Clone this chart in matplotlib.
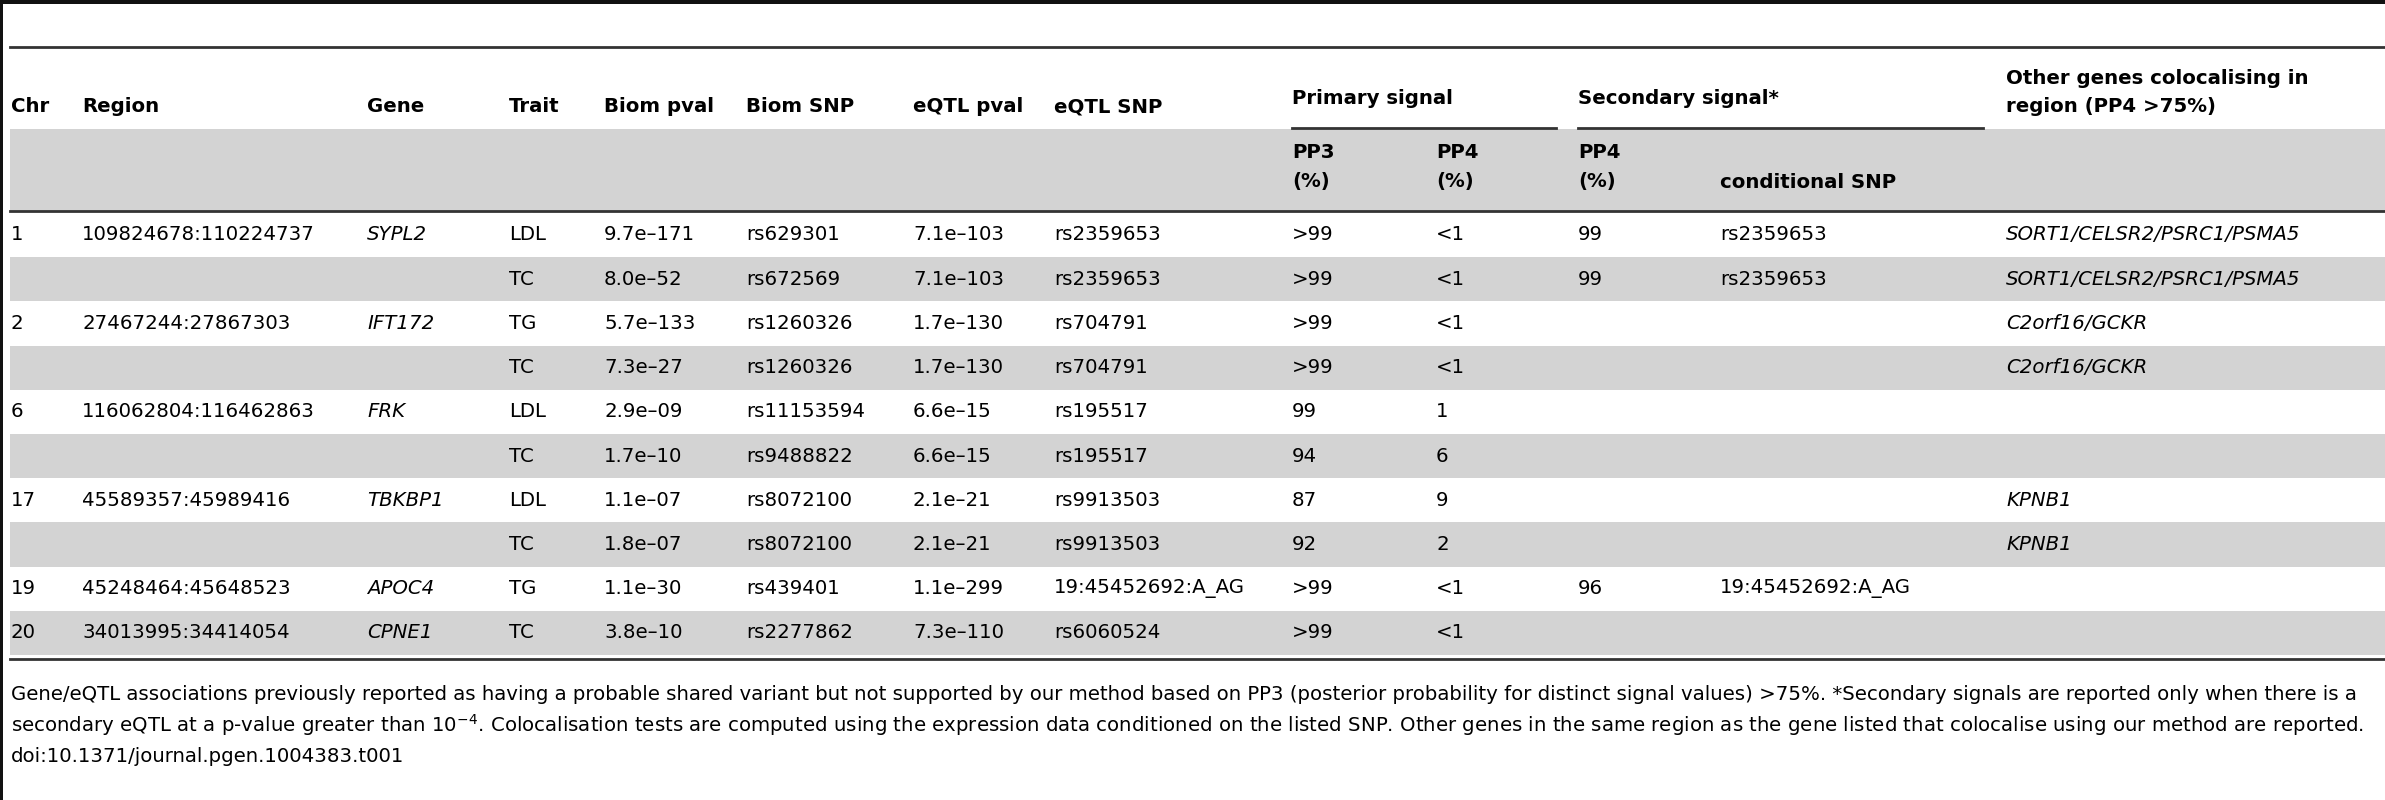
import matplotlib
matplotlib.use("Agg")
import matplotlib.pyplot as plt
from matplotlib.patches import Rectangle
from matplotlib.lines import Line2D

plt.rcParams['font.family'] = ['DejaVu Sans']

chr_ = ["1", "", "2", "", "6", "", "17", "", "19", "20"]
region = ["109824678:110224737", "", "27467244:27867303", "", "116062804:116462863", "",
          "45589357:45989416", "", "45248464:45648523", "34013995:34414054"]
gene = ["SYPL2", "", "IFT172", "", "FRK", "", "TBKBP1", "", "APOC4", "CPNE1"]
trait = ["LDL", "TC", "TG", "TC", "LDL", "TC", "LDL", "TC", "TG", "TC"]
biom_pval = ["9.7e\u2013171", "8.0e\u201352", "5.7e\u2013133", "7.3e\u201327", "2.9e\u201309",
             "1.7e\u201310", "1.1e\u201307", "1.8e\u201307", "1.1e\u201330", "3.8e\u201310"]
biom_snp = ["rs629301", "rs672569", "rs1260326", "rs1260326", "rs11153594", "rs9488822",
            "rs8072100", "rs8072100", "rs439401", "rs2277862"]
eqtl_pval = ["7.1e\u2013103", "7.1e\u2013103", "1.7e\u2013130", "1.7e\u2013130", "6.6e\u201315",
             "6.6e\u201315", "2.1e\u201321", "2.1e\u201321", "1.1e\u2013299", "7.3e\u2013110"]
eqtl_snp = ["rs2359653", "rs2359653", "rs704791", "rs704791", "rs195517", "rs195517",
            "rs9913503", "rs9913503", "19:45452692:A_AG", "rs6060524"]
pp3 = [">99", ">99", ">99", ">99", "99", "94", "87", "92", ">99", ">99"]
pp4 = ["<1", "<1", "<1", "<1", "1", "6", "9", "2", "<1", "<1"]
sec_pp4 = ["99", "99", "", "", "", "", "", "", "96", ""]
cond_snp = ["rs2359653", "rs2359653", "", "", "", "", "", "", "19:45452692:A_AG", ""]
other = ["SORT1/CELSR2/PSRC1/PSMA5", "SORT1/CELSR2/PSRC1/PSMA5", "C2orf16/GCKR", "C2orf16/GCKR",
         "", "", "KPNB1", "KPNB1", "", ""]

W, H = 2385, 800
fig = plt.figure(figsize=(W/100, H/100), dpi=100)
ax = fig.add_axes([0, 0, 1, 1])
ax.set_xlim(0, W); ax.set_ylim(H, 0); ax.axis('off')

FS = 14.2
GRAY = '#d3d3d3'
xs = [11, 82, 367, 509, 604, 746, 913, 1054, 1292, 1436, 1578, 1720, 2006]
cols = [chr_, region, gene, trait, biom_pval, biom_snp, eqtl_pval, eqtl_snp, pp3, pp4, sec_pp4, cond_snp, other]
italic_cols = {2, 12}

# borders
ax.add_patch(Rectangle((0, 0), W, 4, color='#111111', lw=0))
ax.add_patch(Rectangle((0, 0), 3, H, color='#111111', lw=0))
ax.add_line(Line2D([10, W], [47, 47], color='#333333', lw=2))

# header
ax.add_patch(Rectangle((10, 129), W, 82, color=GRAY, lw=0))
hdr = ["Chr", "Region", "Gene", "Trait", "Biom pval", "Biom SNP", "eQTL pval", "eQTL SNP"]
for x, t in zip(xs[:8], hdr):
    ax.text(x, 107, t, fontsize=FS, weight='bold', va='center')
ax.text(1292, 99, "Primary signal", fontsize=FS, weight='bold', va='center')
ax.text(1578, 99, "Secondary signal*", fontsize=FS, weight='bold', va='center')
ax.text(2006, 78, "Other genes colocalising in", fontsize=FS, weight='bold', va='center')
ax.text(2006, 107, "region (PP4 >75%)", fontsize=FS, weight='bold', va='center')
ax.add_line(Line2D([1292, 1556], [128, 128], color='#333333', lw=2))
ax.add_line(Line2D([1578, 1983], [128, 128], color='#333333', lw=2))
for x, t in [(1292, "PP3"), (1436, "PP4"), (1578, "PP4")]:
    ax.text(x, 152, t, fontsize=FS, weight='bold', va='center')
    ax.text(x, 182, "(%)", fontsize=FS, weight='bold', va='center')
ax.text(1720, 182, "conditional SNP", fontsize=FS, weight='bold', va='center')
ax.add_line(Line2D([10, W], [211, 211], color='#333333', lw=2))

# rows
y0, step = 235, 44.2
for i in range(len(trait)):
    y = y0 + i*step
    if i % 2 == 1:
        ax.add_patch(Rectangle((10, y - step/2), W, step, color=GRAY, lw=0))
    for j, (x, col) in enumerate(zip(xs, cols)):
        ax.text(x, y, col[i], fontsize=FS, va='center',
                style='italic' if j in italic_cols else 'normal')
ax.add_line(Line2D([10, W], [659, 659], color='#333333', lw=2))

foot = ["Gene/eQTL associations previously reported as having a probable shared variant but not supported by our method based on PP3 (posterior probability for distinct signal values) >75%. *Secondary signals are reported only when there is a",
        "secondary eQTL at a p-value greater than $10^{-4}$. Colocalisation tests are computed using the expression data conditioned on the listed SNP. Other genes in the same region as the gene listed that colocalise using our method are reported.",
        "doi:10.1371/journal.pgen.1004383.t001"]
for k, t in enumerate(foot):
    ax.text(11, 695 + k*30.5, t, fontsize=FS, va='center')

fig.savefig("out.png", dpi=100)
